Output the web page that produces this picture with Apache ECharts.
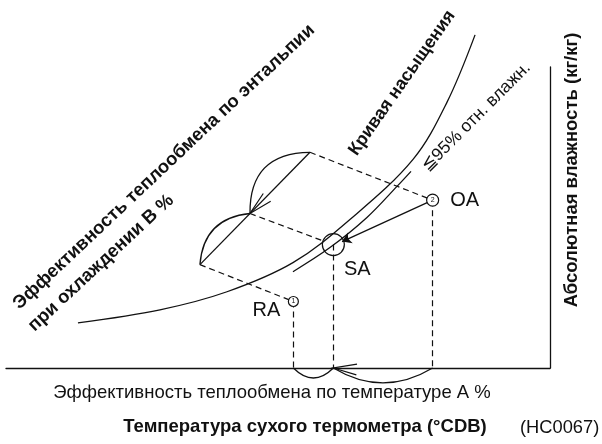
<!DOCTYPE html>
<html><head><meta charset="utf-8">
<script src="https://cdn.jsdelivr.net/npm/echarts@6/dist/echarts.min.js"></script>
<style>html,body{margin:0;padding:0;background:#fff}#c{width:602px;height:444px}</style>
</head><body><div id="c"></div>
<script>
// ---- data (schematic units: temperature °C, humidity g/kg) ----
const satT = [5.29, 11.32, 16.25, 21.10, 25.29, 29.93, 32.43, 34.49];
const satW = [4.5, 5.8, 7.6, 10.5, 14.8, 20.8, 26.5, 33.2];
const rh95T = [21.10, 23.82, 26.54, 28.75, 29.78];
const rh95W = [9.6, 12.0, 15.0, 18.1, 19.6];
const pointNames = ['OA', 'SA', 'RA'];
const pointT = [31.37, 24.07, 21.13];
const pointW = [16.73, 12.3, 6.63];
const pointNums = ['2', '', '1'];
// enthalpy construction line (B1, Bm, B2)
const enthT = [14.26, 17.94, 22.35];
const enthW = [10.3, 15.4, 21.5];
const saEdgeT = [23.29, 24.71];   // dashed end / arrow tip at SA circle edge
const saEdgeW = [12.68, 12.6];
const arrowTipT = [17.94, 24.07];
const arrowTipW = [15.4, 0];
const arrowDirT = [19.19, 25.81];
const arrowDirW = [17.0, -0.15];

const texts = {
  xName: 'Температура сухого термометра (°CDB)',
  yName: 'Абсолютная влажность (кг/кг)',
  effA: 'Эффективность теплообмена по температуре A %',
  effB1: 'Эффективность теплообмена по энтальпии',
  effB2: 'при охлаждении B %',
  sat: 'Кривая насыщения',
  rh: '≦95% отн. влажн.',
  code: '(HC0067)'
};

const FONT = '"Liberation Sans", Arial, Helvetica, sans-serif';
const INK = '#111';
const zip = (a, b) => a.map((v, i) => [v, b[i]]);
const P = i => [pointT[i], pointW[i]];
const E = i => [enthT[i], enthW[i]];

const dashed = [
  [E(2), P(0)],
  [E(1), [saEdgeT[0], saEdgeW[0]]],
  [E(0), P(2)],
  [P(2), [pointT[2], 0]],
  [P(1), [pointT[1], 0]],
  [P(0), [pointT[0], 0]]
];
const arcs = [
  { coords: [E(0), E(1)], c: 0.42 },
  { coords: [E(1), E(2)], c: 0.5 },
  { coords: [[pointT[1], 0], [pointT[2], 0]], c: 0.5 },
  { coords: [[pointT[0], 0], [pointT[1], 0]], c: 0.3 }
];

const chart = echarts.init(document.getElementById('c'), null, { renderer: 'canvas' });
const axisCommon = {
  type: 'value',
  axisTick: { show: false }, axisLabel: { show: false }, splitLine: { show: false },
  axisLine: { show: true, onZero: false, lineStyle: { color: INK, width: 1.3 } }
};
const txt = (x, y, rotDeg, text, font, align) => ({
  type: 'text', x: x, y: y, rotation: rotDeg * Math.PI / 180,
  style: { text: text, font: font + ' ' + FONT, fill: INK, align: align || 'center', verticalAlign: 'middle' }
});
chart.setOption({
  animation: false,
  backgroundColor: '#fff',
  grid: { left: 6, right: 52, top: 67, bottom: 76 },
  xAxis: Object.assign({ min: 0, max: 40 }, axisCommon),
  yAxis: Object.assign({ min: 0, max: 30, position: 'right' }, axisCommon),
  series: [
    { type: 'line', data: zip(satT, satW), smooth: 0.35, symbol: 'none', clip: false,
      lineStyle: { color: INK, width: 1.3 } },
    { type: 'line', data: zip(rh95T, rh95W), smooth: 0.35, symbol: 'none', clip: false,
      lineStyle: { color: INK, width: 1.3 } },
    { type: 'line', data: [E(0), E(2)], symbol: 'none', clip: false,
      lineStyle: { color: INK, width: 1.3 } },
    { type: 'lines', coordinateSystem: 'cartesian2d', clip: false, silent: true,
      lineStyle: { color: INK, width: 1.2, type: [6, 4], opacity: 1 },
      data: dashed.map(c => ({ coords: c })) },
    { type: 'lines', coordinateSystem: 'cartesian2d', clip: false, silent: true,
      lineStyle: { color: INK, width: 1.3, opacity: 1 },
      data: arcs.map(a => ({ coords: a.coords, lineStyle: { curveness: a.c } })) },
    { type: 'lines', coordinateSystem: 'cartesian2d', clip: false, silent: true,
      symbol: ['none', 'arrow'], symbolSize: 9,
      lineStyle: { color: INK, width: 1.3, opacity: 1 },
      data: [{ coords: [P(0), [saEdgeT[1], saEdgeW[1]]] }] },
    { type: 'custom', coordinateSystem: 'cartesian2d', clip: false, silent: true,
      data: arrowTipT.map((t, i) => [t, arrowTipW[i], arrowDirT[i], arrowDirW[i]]),
      renderItem: function (params, api) {
        const tip = api.coord([api.value(0), api.value(1)]);
        const dir = api.coord([api.value(2), api.value(3)]);
        const ang = Math.atan2(dir[1] - tip[1], dir[0] - tip[0]);
        const L = 24, h = 13 * Math.PI / 180;
        return {
          type: 'polyline',
          shape: { points: [
            [tip[0] + L * Math.cos(ang - h), tip[1] + L * Math.sin(ang - h)],
            tip,
            [tip[0] + L * Math.cos(ang + h), tip[1] + L * Math.sin(ang + h)] ] },
          style: { stroke: INK, fill: null, lineWidth: 1.2 }
        };
      } },
    { type: 'scatter', z: 5, silent: true,
      data: pointNames.map((n, i) => ({
        value: P(i), name: n,
        symbolSize: i === 1 ? 22 : (i === 0 ? 12 : 10),
        itemStyle: { color: i === 1 ? 'rgba(0,0,0,0)' : '#fff', borderColor: INK, borderWidth: 1.2, opacity: 1 },
        label: {
          show: true, formatter: n, color: INK, fontFamily: FONT, fontSize: 20,
          position: i === 0 ? 'right' : 'inside',
          distance: 11,
          offset: i === 1 ? [24, 25] : (i === 2 ? [-27, 9] : [0, 0])
        }
      })) },
    { type: 'scatter', z: 6, silent: true, symbolSize: 0, itemStyle: { opacity: 1 },
      data: pointNames.map((n, i) => ({ value: P(i), label: { show: true, position: 'inside',
        formatter: pointNums[i], fontSize: 7, color: INK, fontFamily: FONT } })) }
  ],
  graphic: [
    txt(272, 393, 0, texts.effA, '18.5px'),
    txt(305, 427, 0, texts.xName, 'bold 18.5px'),
    txt(520, 428, 0, texts.code, '18.3px', 'left'),
    txt(572, 170, 90, texts.yName, 'bold 18.5px'),
    txt(402, 83, 55, texts.sat, 'bold 17.9px'),
    txt(476, 117, 45, texts.rh, '17.5px'),
    txt(164, 167, 43.3, texts.effB1, 'bold 18.5px'),
    txt(101, 263, 43, texts.effB2, 'bold 18.5px')
  ]
});
</script></body></html>
